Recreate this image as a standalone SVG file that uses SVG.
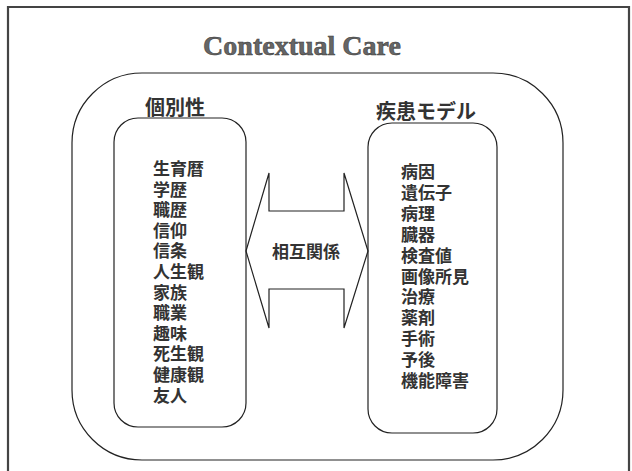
<svg xmlns="http://www.w3.org/2000/svg" width="632" height="471" viewBox="0 0 632 471">
<style>
.ln{fill:none;stroke:#222;stroke-width:1.2}
.frame{fill:none;stroke:#444;stroke-width:2.2}
.jp{font-family:"Noto Sans CJK JP","Noto Sans CJK SC",sans-serif;font-weight:bold;fill:#333}
.item{font-size:17px}
.head{font-size:20px}
.title{font-family:"Liberation Serif","DejaVu Serif",serif;font-weight:bold;font-size:28px;fill:#666;stroke:#333;stroke-width:0.5}
</style>
<rect x="0" y="0" width="632" height="471" fill="#fff"/>
<g id="frame">
<path class="frame" d="M8,480 V7 H629 V480"/>
</g>
<g id="title"><text class="title" x="302" y="55" text-anchor="middle">Contextual Care</text></g>
<g id="outer">
<rect class="ln" x="72" y="73" width="491" height="387" rx="70" ry="70"/>
</g>
<g id="individuality">
<text class="jp head" x="175" y="115" text-anchor="middle">個別性</text>
<rect class="ln" x="114" y="118" width="132" height="309" rx="24" ry="24"/>
<g class="jp item">
<text x="153" y="175">生育暦</text>
<text x="153" y="195.6">学歴</text>
<text x="153" y="216.2">職歴</text>
<text x="153" y="236.8">信仰</text>
<text x="153" y="257.4">信条</text>
<text x="153" y="278">人生観</text>
<text x="153" y="298.6">家族</text>
<text x="153" y="319.2">職業</text>
<text x="153" y="339.8">趣味</text>
<text x="153" y="360.4">死生観</text>
<text x="153" y="381">健康観</text>
<text x="153" y="401.6">友人</text>
</g>
</g>
<g id="disease-model">
<text class="jp head" x="426" y="118.5" text-anchor="middle">疾患モデル</text>
<rect class="ln" x="368" y="123" width="129" height="310" rx="24" ry="24"/>
<g class="jp item">
<text x="401" y="178">病因</text>
<text x="401" y="198.9">遺伝子</text>
<text x="401" y="219.8">病理</text>
<text x="401" y="240.7">臓器</text>
<text x="401" y="261.6">検査値</text>
<text x="401" y="282.5">画像所見</text>
<text x="401" y="303.4">治療</text>
<text x="401" y="324.3">薬剤</text>
<text x="401" y="345.2">手術</text>
<text x="401" y="366.1">予後</text>
<text x="401" y="387">機能障害</text>
</g>
</g>
<g id="connectors">
<polygon class="ln" fill="#fff" points="246,251 269,173 269,211 344,211 344,173 368,251 344,328 344,289 269,289 269,328"/>
<text class="jp item" x="306" y="258" text-anchor="middle">相互関係</text>
</g>
</svg>
